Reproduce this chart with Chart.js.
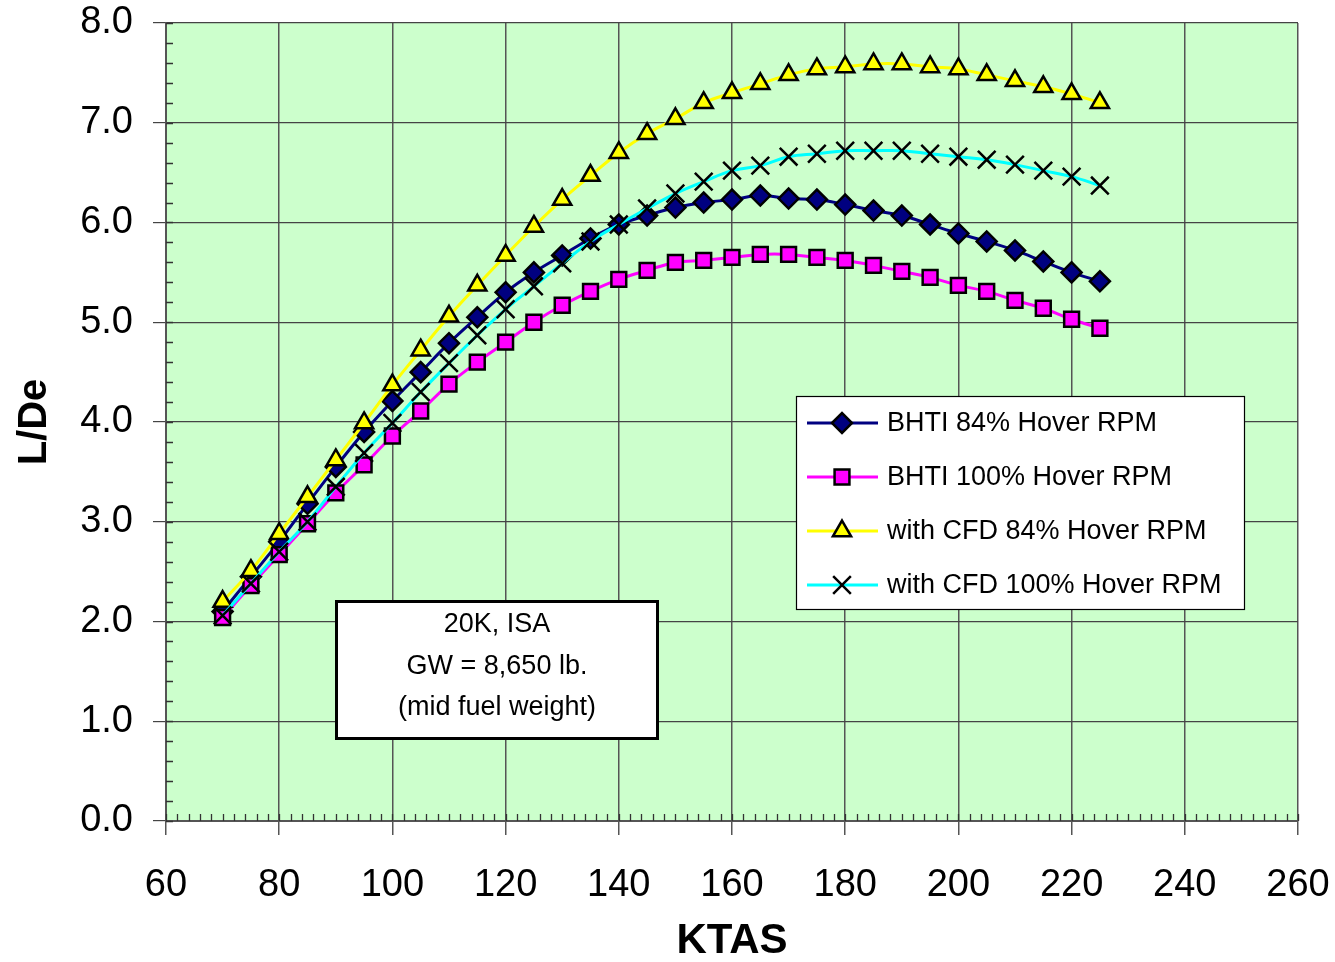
<!DOCTYPE html>
<html>
<head>
<meta charset="utf-8">
<script src="https://cdn.jsdelivr.net/npm/chart.js@4/dist/chart.umd.min.js"></script>
<style>
  html, body { margin: 0; padding: 0; background: #fff; }
  #wrap { width: 1335px; height: 962px; position: relative; }
</style>
</head>
<body>
<div id="wrap"><canvas id="c" width="1335" height="962"></canvas></div>
<script>
// airspeed (knots)
const speeds = [70, 75, 80, 85, 90, 95, 100, 105, 110, 115, 120, 125, 130, 135, 140, 145,
                150, 155, 160, 165, 170, 175, 180, 185, 190, 195, 200, 205, 210, 215, 220, 225];

// L/De per series
const bhti84 = [2.10, 2.45, 2.80, 3.18, 3.55, 3.90, 4.21, 4.50, 4.79, 5.05, 5.30, 5.50, 5.67, 5.84, 5.98, 6.07,
                6.15, 6.20, 6.23, 6.27, 6.24, 6.23, 6.18, 6.12, 6.07, 5.98, 5.89, 5.81, 5.72, 5.61, 5.50, 5.41];
const bhti100 = [2.04, 2.36, 2.67, 2.98, 3.29, 3.57, 3.86, 4.11, 4.38, 4.60, 4.80, 5.00, 5.17, 5.31, 5.43, 5.52,
                 5.60, 5.62, 5.65, 5.68, 5.68, 5.65, 5.62, 5.57, 5.51, 5.45, 5.37, 5.31, 5.22, 5.14, 5.03, 4.94];
const cfd84 = [2.20, 2.51, 2.88, 3.25, 3.62, 3.99, 4.37, 4.72, 5.06, 5.37, 5.67, 5.96, 6.23, 6.47, 6.70, 6.89,
               7.04, 7.20, 7.30, 7.39, 7.48, 7.54, 7.56, 7.59, 7.59, 7.56, 7.54, 7.48, 7.42, 7.36, 7.29, 7.20];
const cfd100 = [2.06, 2.38, 2.70, 3.00, 3.35, 3.69, 3.99, 4.30, 4.59, 4.87, 5.13, 5.36, 5.59, 5.81, 5.98, 6.14,
                6.29, 6.41, 6.52, 6.57, 6.66, 6.69, 6.72, 6.72, 6.72, 6.69, 6.66, 6.63, 6.58, 6.52, 6.46, 6.37];

const seriesNames = ['BHTI 84% Hover RPM', 'BHTI 100% Hover RPM', 'with CFD 84% Hover RPM', 'with CFD 100% Hover RPM'];
const noteLines = ['20K, ISA', 'GW = 8,650 lb.', '(mid fuel weight)'];

const xTicks = [60, 260, 20];   // min, max, step
const yTicks = [0, 8, 1];

const FONT = '"Liberation Sans", Arial, sans-serif';

function pts(vals) {
  return speeds.map((s, i) => ({ x: s, y: vals[i] }));
}

const styles = [
  { line: '#000080', fill: '#000080', shape: 'rectRot', r: 10 },
  { line: '#FF00FF', fill: '#FF00FF', shape: 'rect', r: 10.5 },
  { line: '#FFFF00', fill: '#FFFF00', shape: 'triangle', r: 10.5 },
  { line: '#00FFFF', fill: '#000000', shape: 'crossRot', r: 12.5 }
];
const allData = [bhti84, bhti100, cfd84, cfd100];

const datasets = allData.map((vals, i) => ({
  label: seriesNames[i],
  data: pts(vals),
  borderColor: styles[i].line,
  borderWidth: 3,
  tension: 0.4,
  pointStyle: styles[i].shape,
  pointRadius: styles[i].r,
  pointBackgroundColor: styles[i].fill,
  pointBorderColor: '#000',
  pointBorderWidth: 2.5,
  order: 4 - i
}));

// green plot background + minor ticks
const plotDecor = {
  id: 'plotDecor',
  beforeDraw(chart) {
    const { ctx, chartArea: a } = chart;
    ctx.save();
    ctx.fillStyle = '#CCFFCC';
    ctx.fillRect(a.left, a.top, a.right - a.left, a.bottom - a.top);
    ctx.restore();
  },
  afterDatasetsDraw(chart) {
    const { ctx, chartArea: a, scales } = chart;
    ctx.save();
    ctx.strokeStyle = '#333';
    ctx.lineWidth = 1.3;
    ctx.beginPath();
    for (let v = 0; v <= 8.001; v += 0.2) {
      const y = Math.round(scales.y.getPixelForValue(v)) + 0.5;
      ctx.moveTo(a.left, y); ctx.lineTo(a.left + 7, y);
    }
    for (let v = 60; v <= 260; v += 2) {
      const x = Math.round(scales.x.getPixelForValue(v)) + 0.5;
      ctx.moveTo(x, a.bottom); ctx.lineTo(x, a.bottom - 7);
    }
    ctx.stroke();
    ctx.restore();
  }
};

function marker(ctx, st, x, y) {
  ctx.save();
  ctx.fillStyle = st.fill;
  ctx.strokeStyle = '#000';
  ctx.lineWidth = 2.5;
  Chart.helpers.drawPoint(ctx, { pointStyle: st.shape, radius: st.r, rotation: 0, borderWidth: 2.5 }, x, y);
  ctx.restore();
}

// legend and note boxes
const boxes = {
  id: 'boxes',
  afterDraw(chart) {
    const ctx = chart.ctx;
    ctx.save();
    // legend
    ctx.fillStyle = '#fff';
    ctx.fillRect(796, 396, 449, 214);
    ctx.strokeStyle = '#000';
    ctx.lineWidth = 1.2;
    ctx.strokeRect(796.5, 396.5, 448, 213);
    const rows = [423, 477, 531, 585];
    ctx.font = '27px ' + FONT;
    ctx.textBaseline = 'middle';
    ctx.textAlign = 'left';
    rows.forEach((y, i) => {
      ctx.strokeStyle = styles[i].line;
      ctx.lineWidth = 3;
      ctx.beginPath();
      ctx.moveTo(807, y); ctx.lineTo(878, y);
      ctx.stroke();
      marker(ctx, styles[i], 842, y);
      ctx.fillStyle = '#000';
      ctx.fillText(seriesNames[i], 887, y + 1);
    });
    // note box
    ctx.fillStyle = '#fff';
    ctx.fillRect(335, 600, 324, 140);
    ctx.strokeStyle = '#000';
    ctx.lineWidth = 3;
    ctx.strokeRect(336.5, 601.5, 321, 137);
    ctx.fillStyle = '#000';
    ctx.textAlign = 'center';
    ctx.font = '27px ' + FONT;
    [625, 667, 708].forEach((y, i) => ctx.fillText(noteLines[i], 497, y));
    ctx.restore();
  }
};

new Chart(document.getElementById('c'), {
  type: 'line',
  data: { datasets },
  options: {
    responsive: false,
    animation: false,
    layout: { padding: { top: 23, right: 37, left: 0, bottom: 0 } },
    plugins: { legend: { display: false }, tooltip: { enabled: false } },
    scales: {
      x: {
        type: 'linear',
        min: xTicks[0], max: xTicks[1],
        afterFit(s) { s.height = 141; s.paddingLeft = 0; s.paddingRight = 0; },
        ticks: { stepSize: xTicks[2], padding: 28, color: '#000', font: { family: FONT, size: 38 } },
        grid: { color: '#555', lineWidth: 1.5, tickLength: 14, tickColor: '#555' },
        border: { color: '#555', width: 2 },
        title: { display: true, text: 'KTAS', color: '#000', padding: { top: 0, bottom: 0 },
                 font: { family: FONT, size: 42, weight: 'bold', lineHeight: 1.0 } }
      },
      y: {
        min: yTicks[0], max: yTicks[1],
        afterFit(s) { s.width = 166; s.paddingTop = 0; s.paddingBottom = 0; },
        ticks: { stepSize: yTicks[2], padding: 20, color: '#000', font: { family: FONT, size: 38 },
                 callback: v => v.toFixed(1) },
        grid: { color: '#444', lineWidth: 1.2, tickLength: 13, tickColor: '#444' },
        border: { color: '#555', width: 2 },
        title: { display: true, text: 'L/De', color: '#000', padding: { top: 11, bottom: 0 },
                 font: { family: FONT, size: 40, weight: 'bold', lineHeight: 1.2 } }
      }
    }
  },
  plugins: [plotDecor, boxes]
});
</script>
</body>
</html>
